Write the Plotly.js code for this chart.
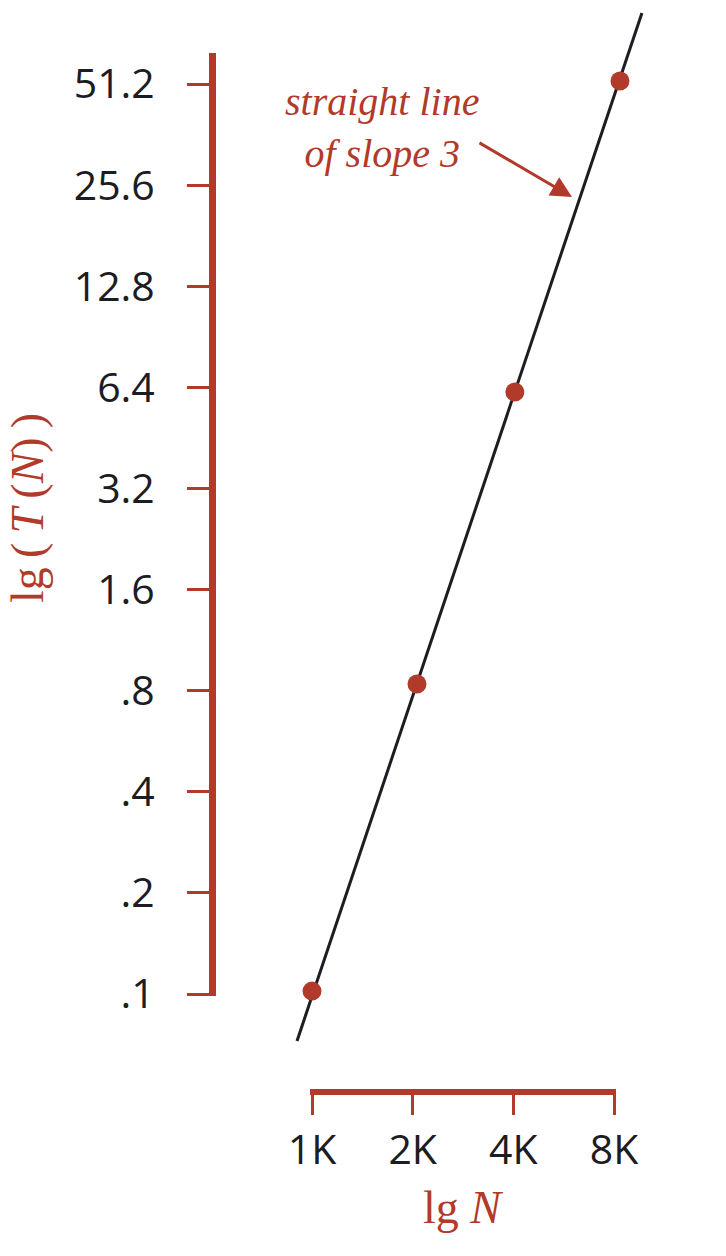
<!DOCTYPE html>
<html>
<head>
<meta charset="utf-8">
<script src="https://cdn.plot.ly/plotly-3.0.1.min.js"></script>
<style>
  html, body { margin: 0; padding: 0; background: #fff; }
  #plot { width: 726px; height: 1256px; }
</style>
</head>
<body>
<div id="plot"></div>
<script>
/* ==========================================================================
   Log-log plot: running time T(N) against N, with the fitted slope-3 line.
   ========================================================================== */

// Measured points (N, seconds).
const sizeN  = [1000, 2060, 4040, 8330];
const timeT  = [0.102, 0.838, 6.2, 52.3];

// Ends of the straight line drawn through them.
const lineN  = [902, 9690];
const lineT  = [0.0725, 83.4];

const xTickVals = [1000, 2000, 4000, 8000];
const xTickText = ["1K", "2K", "4K", "8K"];
const yTickVals = [0.1, 0.2, 0.4, 0.8, 1.6, 3.2, 6.4, 12.8, 25.6, 51.2];
const yTickText = [".1", ".2", ".4", ".8", "1.6", "3.2", "6.4", "12.8", "25.6", "51.2"];

const RED  = "#b13a2b";
const INK  = "#1c1c22";
const W = 726, H = 1256;

// Page geometry: where 1K and .1 sit, and pixels per doubling.
const X0PX = 312, Y0PX = 994;
const PPD_X = 100.7 / Math.log10(2);   // px per decade
const PPD_Y = 101.1 / Math.log10(2);
const xAt = px => 3 + (px - X0PX) / PPD_X;
const yAt = px => -1 + (Y0PX - px) / PPD_Y;
const fx  = px => px / W;
const fy  = px => (H - px) / H;

const data = [
  {
    type: "scatter", mode: "lines",
    x: lineN, y: lineT,
    line: { color: INK, width: 3 },
    hoverinfo: "skip",
  },
  {
    type: "scatter", mode: "markers",
    x: sizeN, y: timeT,
    marker: { size: 19, color: RED, line: { width: 0 } },
  },
  // registers the subplot that carries the drawn axes
  { type: "scatter", x: [], y: [], xaxis: "x2", yaxis: "y2", hoverinfo: "skip" },
];

const tickFont = { family: "Open Sans, sans-serif", size: 41, color: INK };
const thin = "\u2009";

const layout = {
  width: W, height: H,
  paper_bgcolor: "#fff", plot_bgcolor: "rgba(0,0,0,0)",
  margin: { l: 0, r: 0, t: 0, b: 0 },
  showlegend: false,
  xaxis: {
    type: "log", visible: false,
    domain: [fx(212), 1],
    range: [xAt(212), xAt(W)],
  },
  yaxis: {
    type: "log", visible: false,
    domain: [fy(1092), 1],
    range: [yAt(1092), yAt(0)],
  },
  xaxis2: {
    type: "log",
    domain: [fx(310), fx(616)],
    range: [xAt(310), xAt(616)],
    anchor: "free", position: fy(1092),
    showline: true, linecolor: RED, linewidth: 6,
    ticks: "outside", ticklen: 20, tickwidth: 3, tickcolor: RED,
    tickvals: xTickVals, ticktext: xTickText,
    tickfont: tickFont,
    showgrid: false, zeroline: false,
  },
  yaxis2: {
    type: "log",
    domain: [fy(996), fy(53)],
    range: [yAt(996), yAt(53)],
    anchor: "free", position: fx(212),
    showline: true, linecolor: RED, linewidth: 7,
    ticks: "outside", ticklen: 22, tickwidth: 3, tickcolor: RED,
    tickvals: yTickVals, ticktext: yTickText,
    tickfont: tickFont,
    ticklabelstandoff: 24,
    showgrid: false, zeroline: false,
  },
  annotations: [
    {
      xref: "paper", yref: "paper", x: fx(463), y: fy(1207),
      xanchor: "center", yanchor: "middle", showarrow: false,
      text: "lg <i>N</i>",
      font: { family: "Liberation Serif, serif", size: 46, color: RED },
    },
    {
      xref: "paper", yref: "paper", x: fx(27), y: fy(508),
      xanchor: "center", yanchor: "middle", showarrow: false,
      textangle: -90,
      text: "lg" + thin + "(" + thin + "<i>T</i>" + thin + "(<i>N</i>)" + thin + ")",
      font: { family: "Liberation Serif, serif", size: 46, color: RED },
    },
    {
      xref: "paper", yref: "paper", x: fx(382), y: fy(128),
      xanchor: "center", yanchor: "middle", showarrow: false,
      text: "<i>straight line</i><br><i>of slope 3</i>",
      font: { family: "Liberation Serif, serif", size: 40, color: RED },
    },
    {
      xref: "paper", yref: "paper", x: fx(572), y: fy(197),
      axref: "pixel", ayref: "pixel", ax: -94, ay: -55,
      showarrow: true, text: "",
      arrowcolor: RED, arrowwidth: 3, arrowhead: 2, arrowsize: 1.4,
    },
  ],
};

Plotly.newPlot("plot", data, layout, { displayModeBar: false, staticPlot: true });
</script>
</body>
</html>
